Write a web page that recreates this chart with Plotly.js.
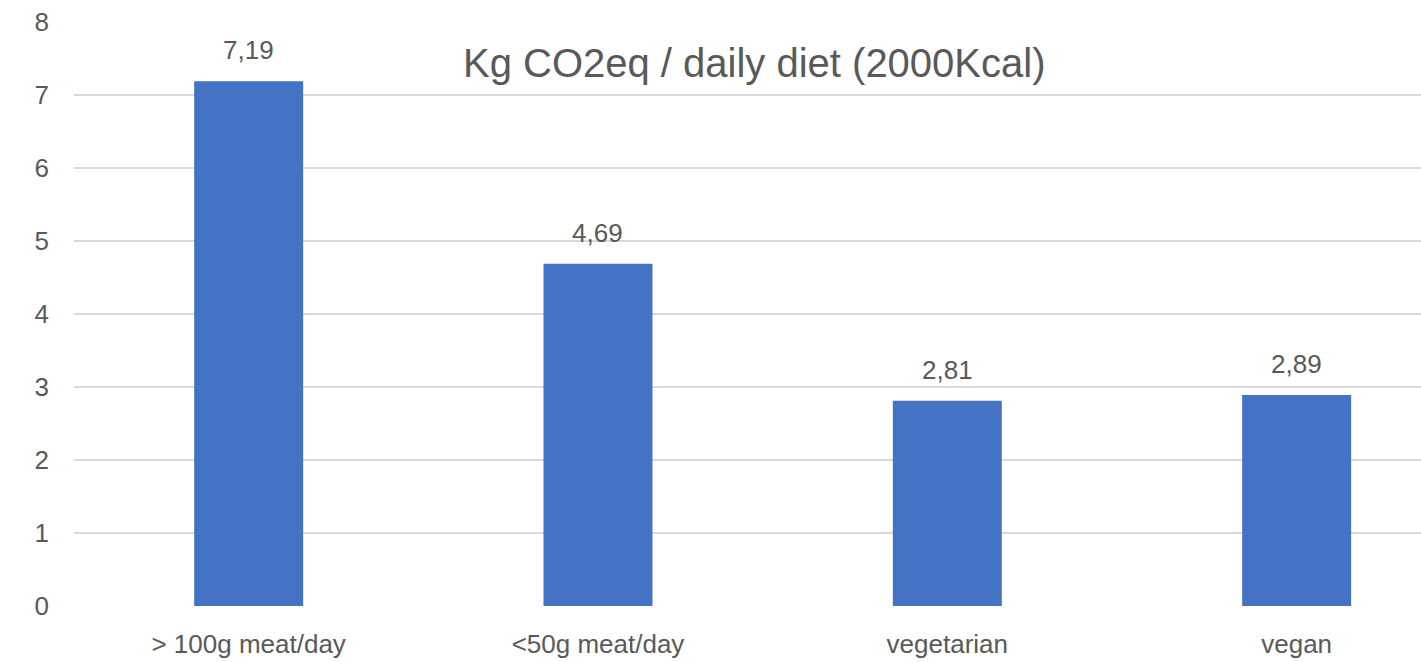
<!DOCTYPE html>
<html>
<head>
<meta charset="utf-8">
<script src="https://cdn.plot.ly/plotly-3.0.1.min.js"></script>
<style>
html,body{margin:0;padding:0;background:#fff;}
#chart{width:1421px;height:662px;}
</style>
</head>
<body>
<div id="chart"></div>
<script>
const categories = ["> 100g meat/day", "<50g meat/day", "vegetarian", "vegan"];
const values = [7.19, 4.69, 2.81, 2.89];
const yTicks = [0, 1, 2, 3, 4, 5, 6, 7, 8];
const chartTitle = "Kg CO2eq / daily diet (2000Kcal)";

const FONT = "'Liberation Sans Narrow', 'Arial Narrow', 'Liberation Sans', Arial, sans-serif";
const TXT = "#595959";

const trace = {
  type: "bar",
  x: categories,
  y: values,
  width: 0.312,
  marker: {color: "#4472C4", line: {width: 0}},
  hoverinfo: "none"
};

const annotations = categories.map((c, i) => ({
  x: c, y: values[i], xref: "x", yref: "y",
  text: values[i].toFixed(2).replace(".", ","),
  showarrow: false, yanchor: "bottom", yshift: 14,
  font: {family: FONT, size: 26, color: TXT}
}));

const layout = {
  width: 1421, height: 662,
  margin: {l: 74, r: 0, t: 22, b: 56, pad: 0},
  paper_bgcolor: "#ffffff",
  plot_bgcolor: "#ffffff",
  showlegend: false,
  separators: ", ",
  title: {
    text: chartTitle,
    xref: "paper", yref: "container",
    x: 0.505, xanchor: "center",
    y: 0.905, yanchor: "middle",
    font: {family: FONT, size: 40, color: TXT}
  },
  xaxis: {
    type: "category",
    range: [-0.5, 3.356],
    showgrid: false,
    zeroline: false,
    showline: false,
    ticks: "",
    ticklabelstandoff: 20,
    tickfont: {family: FONT, size: 26, color: TXT},
    fixedrange: true
  },
  yaxis: {
    range: [0, 8],
    tickvals: yTicks,
    ticktext: yTicks.map(String),
    showgrid: true,
    gridcolor: "#d9d9d9",
    gridwidth: 2,
    zeroline: false,
    showline: false,
    ticks: "",
    ticklabelstandoff: 24,
    tickfont: {family: FONT, size: 26, color: TXT},
    fixedrange: true
  },
  annotations: annotations
};

Plotly.newPlot("chart", [trace], layout, {displayModeBar: false, staticPlot: true});
</script>
</body>
</html>
